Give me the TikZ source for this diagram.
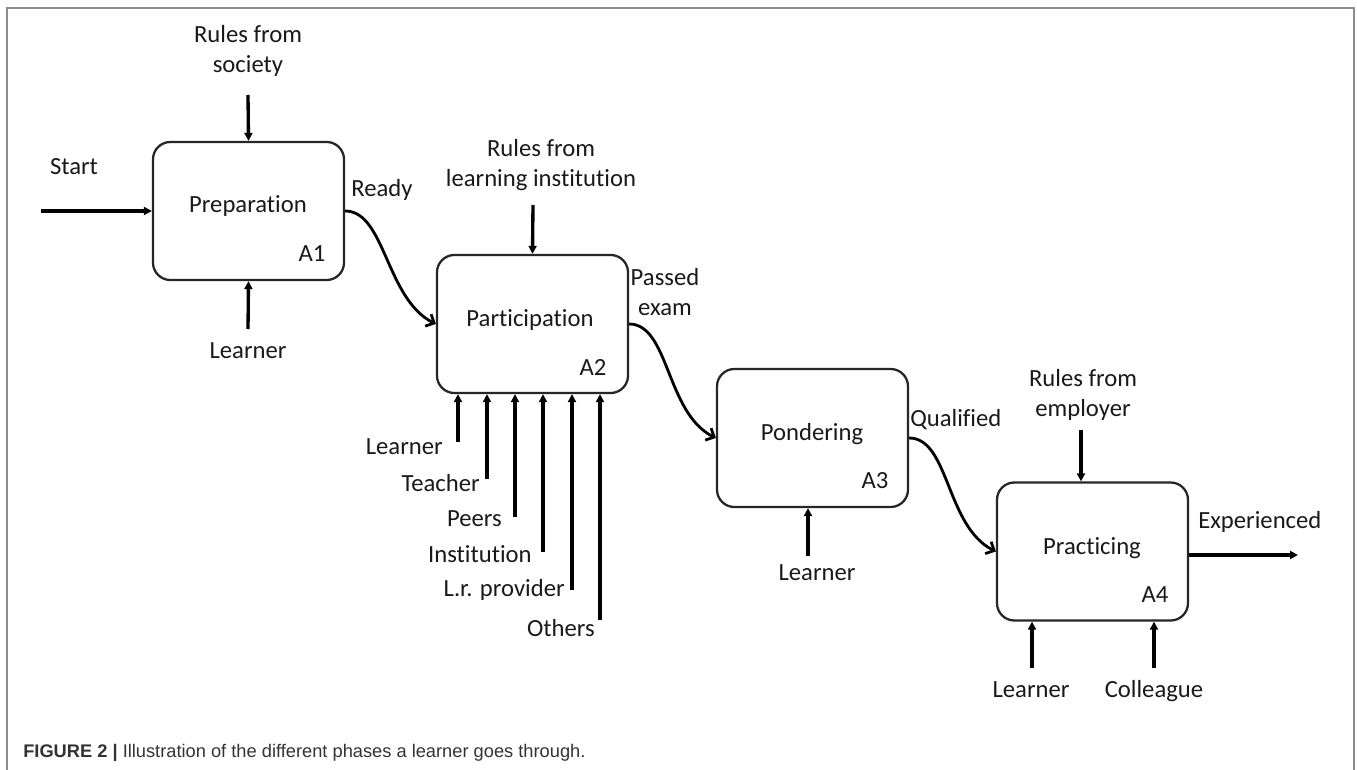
\documentclass[tikz,border=0pt]{standalone}
\usepackage{fontspec}
\setmainfont{Carlito}[Ligatures=NoCommon]
\newfontfamily\capfont{Liberation Sans}
\usetikzlibrary{arrows.meta,calc}
\begin{document}
\begin{tikzpicture}[x=0.75pt,y=-0.75pt,
  phasebox/.style={draw=black!85, line width=1.7pt, rounded corners=13pt,
    minimum width=143.25pt, minimum height=103.5pt, inner sep=0pt},
  lbl/.style={font=\fontsize{18.5pt}{22.5pt}\selectfont, text=black!90, inner sep=0pt, align=center},
  arr/.style={line width=2.5pt, -{Triangle[length=6pt,width=6pt]}},
  curv/.style={line width=2.1pt, -{Straight Barb[length=5pt,width=10pt]}},
  framel/.style={draw=black!45, line width=1.5pt}
]
\useasboundingbox (0,0) rectangle (1357,770);
% frame
\draw[framel] (7,775) -- (7,8) -- (1354,8) -- (1354,775);

% boxes
\node[phasebox] (a1) at (248.5,211) {};
\node[phasebox] (a2) at (532.5,324) {};
\node[phasebox] (a3) at (812.5,438) {};
\node[phasebox] (a4) at (1092.5,551.5) {};

% box texts
\node[lbl] (t1) at (248,206) {Preparation};
\node[lbl] (n1) at (312,254) {A1};
\node[lbl] (t2) at (530,320) {Participation};
\node[lbl] (n2) at (593,367) {A2};
\node[lbl] (t3) at (812,434) {Pondering};
\node[lbl] (n3) at (875,481) {A3};
\node[lbl] (t4) at (1092,548) {Practicing};
\node[lbl] (n4) at (1155,595) {A4};

% A1 labels and arrows
\node[lbl] (soc) at (248,51) {Rules from\\society};
\coordinate (socs) at (248,95);
\draw[arr] (socs) -- (a1.north);
\node[lbl] (start) at (74,167) {Start};
\coordinate (starts) at (41,211);
\draw[arr] (starts) -- (a1.west);
\node[lbl] (lr1) at (248,351) {Learner};
\coordinate (lr1s) at (248,329);
\draw[arr] (lr1s) -- (a1.south);
\node[lbl] (ready) at (382,190) {Ready};
\draw[curv] (a1.east) .. controls ($(a1.east)+(40,0)$) and ($(a2.west)+(-50,-25)$) .. (a2.west);

% A2
\node[lbl] (rli) at (541,165) {Rules from\\learning institution};
\coordinate (rlis) at (533,205);
\draw[arr] (rlis) -- (a2.north);
\node[lbl] (passed) at (665,292) {Passed\\exam};
\draw[curv] (a2.east) .. controls ($(a2.east)+(40,0)$) and ($(a3.west)+(-50,-25)$) .. (a3.west);

\coordinate (i1) at (458,442);
\coordinate (i2) at (487,479);
\coordinate (i3) at (515,517);
\coordinate (i4) at (543,552);
\coordinate (i5) at (572,590);
\coordinate (i6) at (600,620);
\foreach \c in {i1,i2,i3,i4,i5,i6}{\draw[arr] (\c) -- (\c |- a2.south);}
\node[lbl,anchor=east] (l1) at (443,447) {Learner};
\node[lbl,anchor=east] (l2) at (480,483) {Teacher};
\node[lbl,anchor=east] (l3) at (502,519) {Peers};
\node[lbl,anchor=east] (l4) at (532,554) {Institution};
\node[lbl,anchor=east] (l5) at (565,590) {L.r. provider};
\node[lbl,anchor=east] (l6) at (595,628) {Others};

% A3
\coordinate (lr3s) at (808,556);
\draw[arr] (lr3s) -- (lr3s |- a3.south);
\node[lbl] (lr3) at (817,573) {Learner};
\node[lbl,anchor=west] (qual) at (910,420) {Qualified};
\draw[curv] (a3.east) .. controls ($(a3.east)+(40,0)$) and ($(a4.west)+(-50,-25)$) .. (a4.west);

% A4
\node[lbl] (emp) at (1083,395) {Rules from\\employer};
\coordinate (emps) at (1081,430);
\draw[arr] (emps) -- (emps |- a4.north);
\node[lbl,anchor=west] (exp) at (1198,522) {Experienced};
\coordinate (expe) at (1298,555);
\draw[arr] (expe -| a4.east) -- (expe);
\coordinate (lr4s) at (1032,668);
\coordinate (cols) at (1154,668);
\draw[arr] (lr4s) -- (lr4s |- a4.south);
\draw[arr] (cols) -- (cols |- a4.south);
\node[lbl,anchor=base] (lr4) at (1031,697) {Learner};
\node[lbl,anchor=base] (col) at (1154,697) {Colleague};

% caption
\node[anchor=base west, inner sep=0pt, font=\capfont\fontsize{13.7pt}{16pt}\selectfont, text=black!80] (cap) at (23,757)
  {\textbf{FIGURE 2 |} Illustration of the different phases a learner goes through.};
\end{tikzpicture}
\end{document}
